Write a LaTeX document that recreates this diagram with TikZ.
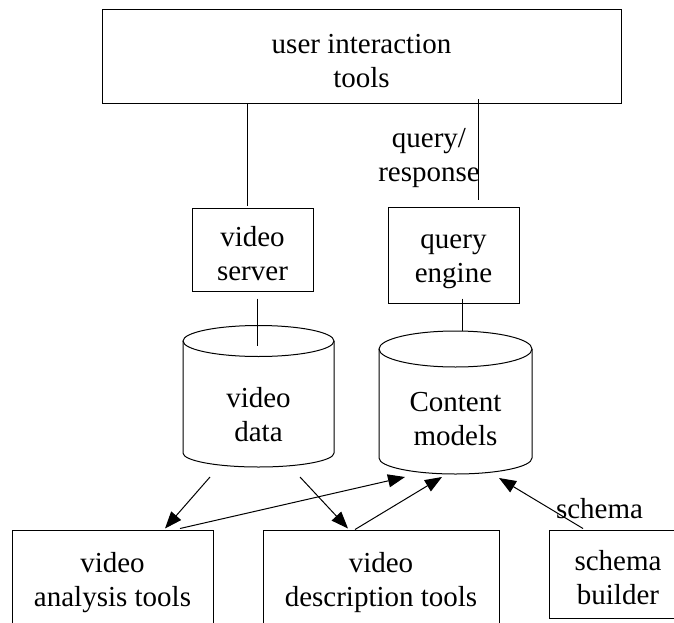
\documentclass[tikz,border=0pt]{standalone}
\usepackage{fontspec}
\setmainfont{Liberation Serif}
\usetikzlibrary{arrows.meta,calc}

\tikzset{
  box/.style={draw,line width=1pt,inner sep=0pt,align=center},
  txt/.style={inner sep=0pt,align=center},
  >={Triangle[length=17pt,width=13pt]}
}

\begin{document}
\begin{tikzpicture}[x=1pt,y=-1pt,line width=1pt,font=\fontsize{29}{34}\selectfont]
\useasboundingbox (0,0) rectangle (674,623);
\clip (0,0) rectangle (674,623);

\foreach \name/\x/\y/\w/\h/\txt in {uit/361.5/57/519/94/{user interaction\\tools},
  vs/252.5/249.5/121/83/{video\\server},qe/453.5/255/131/96/{query\\engine},
  va/112.5/578.5/201/97/{video\\analysis tools},vdt/381/578.5/236/97/{video\\description tools},
  sb/618/574/138/88/{schema\\builder}}{
 \node[box,minimum width=\w,minimum height=\h] (\name) at (\x,\y) {\rule{0pt}{28pt}\txt};
 }

% the two stores
\coordinate (vdtop) at (258.5,341);
\coordinate (vdbot) at (258.5,453);
\coordinate (cmtop) at (455.5,349);
\coordinate (cmbot) at (455.5,458);
\draw (vdtop) ellipse [x radius=75.5, y radius=15.5];
\draw ($(vdtop)+(-75.5,0)$) -- ($(vdbot)+(-75.5,0)$) arc[start angle=180,end angle=0,x radius=75.5,y radius=14] -- ($(vdtop)+(75.5,0)$);
\draw (cmtop) ellipse [x radius=76.5, y radius=18];
\draw ($(cmtop)+(-76.5,0)$) -- ($(cmbot)+(-76.5,0)$) arc[start angle=180,end angle=0,x radius=76.5,y radius=16] -- ($(cmtop)+(76.5,0)$);
\node[txt] (vd) at (258.5,414.5) {video\\data};
\node[txt] (cm) at (455.5,419.5) {Content\\models};

\draw ($(vs.north |- uit.south)+(-5.5,0)$) -- ($(vs.north)+(-5.5,-2)$);
\draw ($(qe.north |- uit.south)+(24.5,-5)$) -- ($(qe.north)+(24.5,-7)$);
\node[txt] (qr) at (429,158) {query/\\response};
\draw ($(vs.south)+(4.5,7)$) -- ($(vdtop)+(-1.5,5)$);
\draw ($(qe.south)+(8.5,-5)$) -- ($(cmtop)+(6.5,-18)$);

\draw [->] ($(vdbot)+(-48.5,24)$) -- ($(va.north)+(52.5,-1)$);
\draw [->] ($(vdbot)+(41.5,24)$) -- ($(vdt.north)+(-33,-1)$);
\draw [->] ($(va.north)+(67.5,-1)$) -- ($(cmbot)+(-50.5,19)$);
\draw [->] ($(vdt.north)+(-26,0)$) -- ($(cmbot)+(-13.5,19)$);
\draw [->] ($(sb.north)+(-35,-1)$) -- ($(cmbot)+(43.5,20)$);
\node[txt] (sc) at (599.5,509) {schema};

\end{tikzpicture}
\end{document}
